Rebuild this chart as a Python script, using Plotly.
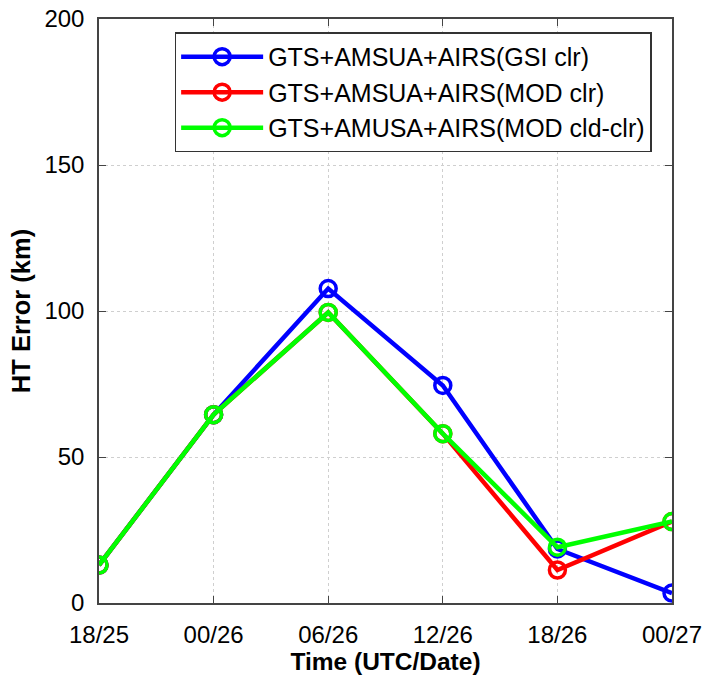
import plotly.graph_objects as go

# Forecast times (UTC hour / date)
times = ["18/25", "00/26", "06/26", "12/26", "18/26", "00/27"]

# Track (HT) error in km for each experiment
gsi_clr = [13, 64.5, 107.7, 74.5, 18.5, 3.4]
mod_clr = [13, 64.5, 99.5, 58.0, 11.3, 27.9]
mod_cld_clr = [13, 64.5, 99.5, 58.0, 19.1, 27.9]

series = [
    ("GTS+AMSUA+AIRS(GSI clr)", gsi_clr, "#0000ff"),
    ("GTS+AMSUA+AIRS(MOD clr)", mod_clr, "#ff0000"),
    ("GTS+AMUSA+AIRS(MOD cld-clr)", mod_cld_clr, "#00ff00"),
]

x_idx = list(range(len(times)))

fig = go.Figure()
for name, vals, color in series:
    fig.add_trace(go.Scatter(
        x=x_idx, y=vals, name=name, mode="lines+markers",
        line=dict(color=color, width=4.5),
        marker=dict(symbol="circle-open", size=16, color=color,
                    line=dict(width=3.5, color=color)),
    ))

font_family = "Liberation Sans, Arial, Helvetica, sans-serif"

fig.update_layout(
    width=704, height=679,
    margin=dict(l=99, r=32, t=19, b=76),
    paper_bgcolor="white", plot_bgcolor="white",
    font=dict(family=font_family, size=24, color="black"),
    showlegend=True,
    legend=dict(
        x=0.132, y=0.977, xanchor="left", yanchor="top",
        bgcolor="white", bordercolor="#333333", borderwidth=1.5,
        font=dict(size=25, family=font_family, color="black"),
        itemwidth=82, tracegroupgap=0,
    ),
)

fig.update_xaxes(
    automargin=False,
    range=[0, len(times) - 1],
    tickmode="array", tickvals=x_idx, ticktext=times,
    showline=True, linecolor="#444444", linewidth=1.5, mirror="ticks",
    ticks="inside", ticklen=7, tickcolor="#444444",
    showgrid=True, gridcolor="#cfcfcf", griddash="dot", gridwidth=1,
    zeroline=False,
    tickfont=dict(size=24),
    ticklabelstandoff=9,
    title=dict(text="<b>Time (UTC/Date)</b>", font=dict(size=24.5), standoff=4),
)
fig.update_yaxes(
    automargin=False,
    range=[0, 200], tickvals=[0, 50, 100, 150, 200],
    showline=True, linecolor="#444444", linewidth=1.5, mirror="ticks",
    ticks="inside", ticklen=7, tickcolor="#444444",
    showgrid=True, gridcolor="#cfcfcf", griddash="dot", gridwidth=1,
    zeroline=False,
    tickfont=dict(size=24),
    ticklabelstandoff=8,
    title=dict(text="<b>HT Error (km)</b>", font=dict(size=25.5), standoff=6),
)

fig.write_html("out.html")
